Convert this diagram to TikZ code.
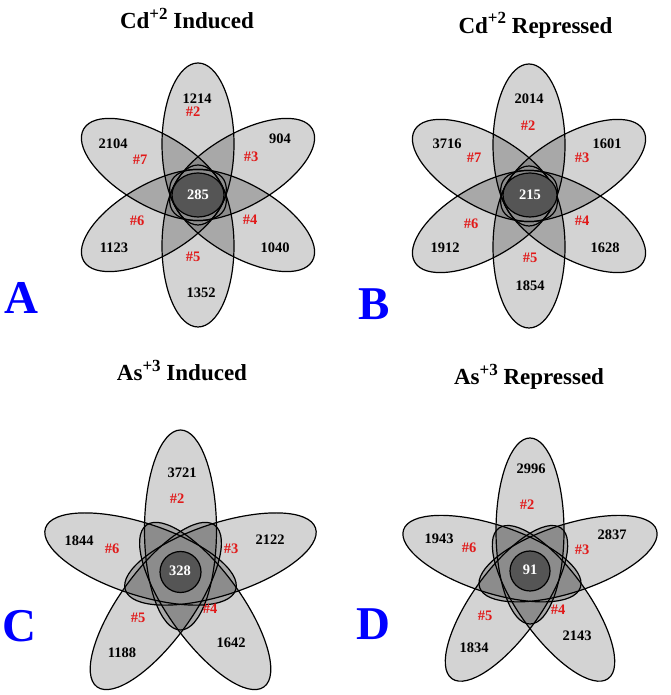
\documentclass[tikz,border=0pt]{standalone}
\usepackage{fontspec}
\setmainfont{Liberation Serif}
\definecolor{tagred}{RGB}{225,25,25}
\definecolor{coregray}{RGB}{85,85,85}
\definecolor{lite}{RGB}{211,211,211}
\definecolor{twice}{RGB}{168,168,168}
\definecolor{thrice}{RGB}{140,140,140}
\newcommand{\chg}[1]{\raisebox{.42em}{\fontsize{17}{17}\selectfont #1}}
% one flower: petals at the listed angles, offset \pd, half axes \pa and \pb
\newcommand{\flower}[1]{%
  \foreach \a in {#1} \fill[lite,rotate=\a] (\pd,0) ellipse [x radius=\pa,y radius=\pb];
  \foreach \a in {#1}{\foreach \b in {#1}{\ifnum\a<\b
    \begin{scope}\clip[rotate=\a] (\pd,0) ellipse [x radius=\pa,y radius=\pb];
      \fill[twice,rotate=\b] (\pd,0) ellipse [x radius=\pa,y radius=\pb];\end{scope}\fi}}
  \foreach \a in {#1}{\foreach \b in {#1}{\foreach \c in {#1}{\ifnum\a<\b\ifnum\b<\c
    \begin{scope}\clip[rotate=\a] (\pd,0) ellipse [x radius=\pa,y radius=\pb];
      \clip[rotate=\b] (\pd,0) ellipse [x radius=\pa,y radius=\pb];
      \fill[thrice,rotate=\c] (\pd,0) ellipse [x radius=\pa,y radius=\pb];\end{scope}\fi\fi}}}
  \foreach \a in {#1} \draw[edge,rotate=\a] (\pd,0) ellipse [x radius=\pa,y radius=\pb];}
\tikzset{
  edge/.style={draw=black,line width=1.2pt},
  coreblob/.style={edge,fill=coregray},
  num/.style={font=\fontsize{14.5}{14.5}\selectfont\bfseries},
  tag/.style={num,text=tagred},
  mid/.style={num,text=white},
  ttl/.style={font=\fontsize{23}{23}\selectfont\bfseries,anchor=base},
  panel/.style={font=\fontsize{47}{47}\selectfont\bfseries,text=blue}
}
\begin{document}
\begin{tikzpicture}[x=1pt,y=1pt]
\useasboundingbox (0,0) rectangle (670,695);
% six petals, top row
\def\pd{51}\def\pa{81}\def\pb{36}
\begin{scope}[shift={(198,500)}]
\flower{90,30,-30,-90,-150,150}
\filldraw[coreblob] (0,0) ellipse [x radius=26,y radius=22];
\end{scope}
\begin{scope}[shift={(529,499)}]
\flower{90,30,-30,-90,-150,150}
\filldraw[coreblob] (1,1) ellipse [x radius=27,y radius=22];
\end{scope}
% five petals, bottom row
\def\pd{42}\def\pa{100}\def\pb{36}
\begin{scope}[shift={(180.5,123)}]
\flower{90,18,-54,-126,162}
\filldraw[coreblob] (0,0) circle [radius=20.5];
\end{scope}
\def\pd{40}\def\pa{93}\def\pb{34}
\begin{scope}[shift={(530,124)}]
\flower{90,18,-54,-126,162}
\filldraw[coreblob] (0,0) circle [radius=20];
\end{scope}
% titles and panel letters
\node[ttl] (tA) at (187,666) {Cd\chg{+2} Induced};
\node[ttl] (tB) at (535.5,661.5) {Cd\chg{+2} Repressed};
\node[ttl] (tC) at (182,314) {As\chg{+3} Induced};
\node[ttl] (tD) at (529,310) {As\chg{+3} Repressed};
\node[panel] (pA) at (21,397) {A};
\node[panel] (pB) at (374.5,391) {B};
\node[panel] (pC) at (19.5,68.5) {C};
\node[panel] (pD) at (373,71) {D};
% counts
\foreach \x/\y/\t in {197/596/1214,280/556/904,113/551/2104,114/447/1123,275/447/1040,201/402/1352}
  \node[num] (a\t) at (\x,\y) {\t};
\foreach \x/\y/\k in {193/583/2,251/538/3,250/475/4,193/438/5,137/474/6,140/535/7}
  \node[tag] (aT\k) at (\x,\y) {\#\k};
\node[mid] (aMid) at (198,500) {285};
\foreach \x/\y/\t in {529/596/2014,447/551/3716,607/551/1601,445/447/1912,605/447/1628,530/409/1854}
  \node[num] (b\t) at (\x,\y) {\t};
\foreach \x/\y/\k in {528/569/2,582/537/3,582/474/4,530/437/5,471/471/6,474/537/7}
  \node[tag] (bT\k) at (\x,\y) {\#\k};
\node[mid] (bMid) at (530,500) {215};
\foreach \x/\y/\t in {182/222/3721,79/154/1844,270/155/2122,231/52/1642,122/42/1188}
  \node[num] (c\t) at (\x,\y) {\t};
\foreach \x/\y/\k in {177/196/2,231/146/3,210/86/4,138/77/5,112/146/6}
  \node[tag] (cT\k) at (\x,\y) {\#\k};
\node[mid] (cMid) at (180,124) {328};
\foreach \x/\y/\t in {531/226/2996,439/156/1943,612/160/2837,577/59/2143,474/47/1834}
  \node[num] (d\t) at (\x,\y) {\t};
\foreach \x/\y/\k in {527/190/2,582/145/3,558/85/4,485/79/5,469/147/6}
  \node[tag] (dT\k) at (\x,\y) {\#\k};
\node[mid] (dMid) at (530,125) {91};
\end{tikzpicture}
\end{document}
